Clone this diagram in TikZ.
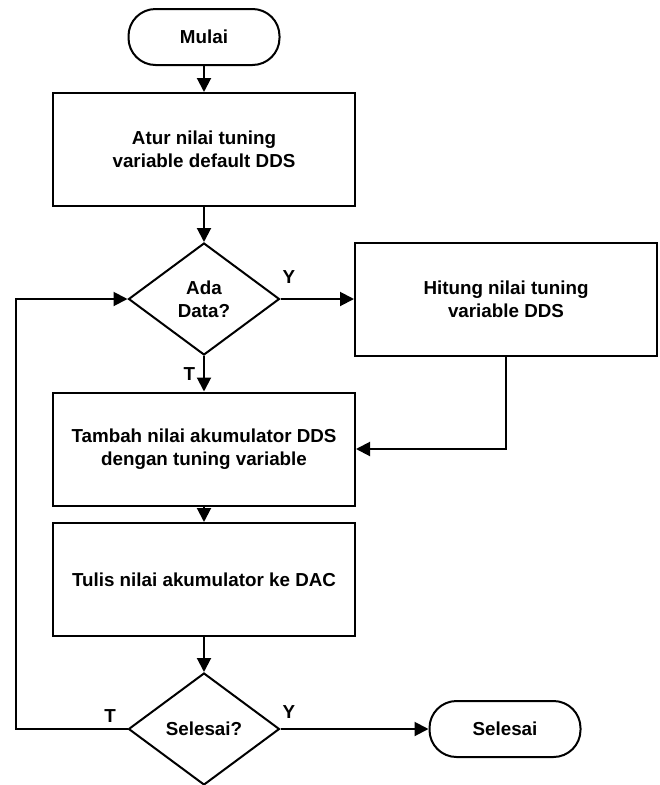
\documentclass[tikz,border=0pt]{standalone}
\usepackage{fontspec}
\setmainfont{Liberation Sans}
\usetikzlibrary{shapes.geometric,arrows.meta}
\begin{document}
\begin{tikzpicture}[x=1pt,y=-1pt,
  every node/.style={font=\bfseries\fontsize{18.8}{23}\selectfont, align=center, inner sep=0pt},
  flow/.style={line width=2pt, draw=black},
  proc/.style={flow, rectangle, minimum width=302pt, minimum height=113pt},
  term/.style={flow, rectangle, rounded corners=27pt, minimum width=151pt, minimum height=56pt},
  dec/.style={flow, diamond, minimum width=151pt, minimum height=112pt},
  conn/.style={line width=2pt, -{Triangle[length=14pt,width=14pt]}},
  lbl/.style={}
]
\useasboundingbox (0,0) rectangle (660,785);
\node[term] (start) at (204,37) {Mulai};
\node[proc] (init) at (204,149.5) {Atur nilai tuning\\variable default DDS};
\node[dec] (ada) at (204,299) {Ada\\Data?};
\node[proc] (hit) at (506,299) {Hitung nilai tuning\\variable DDS};
\node[proc] (tam) at (204,449) {Tambah nilai akumulator DDS\\dengan tuning variable};
\node[proc] (tul) at (204,579.5) {Tulis nilai akumulator ke DAC};
\node[dec] (sel) at (204,729) {Selesai?};
\node[term] (end) at (505,729) {Selesai};
\coordinate (hc) at (hit.south |- tam.east);
\coordinate (lb) at (16,729);
\coordinate (lt) at (16,299);

\draw[conn] (start) -- (init);
\draw[conn] (init) -- (ada);
\draw[conn] (ada) -- node[lbl, left=8pt] {T} (tam);
\draw[conn] (ada) -- (hit);
\node[lbl] (ylab1) at (289,277) {Y};
\draw[conn] (hit.south) -- (hc) -- (tam.east);
\draw[conn] (tam) -- (tul);
\draw[conn] (tul) -- (sel);
\draw[conn] (sel) -- (end);
\node[lbl] (ylab2) at (289,712) {Y};
\draw[conn] (sel.west) -- (lb) -- (lt) -- (ada.west);
\node[lbl] (tlab2) at (110,716) {T};
\end{tikzpicture}
\end{document}
